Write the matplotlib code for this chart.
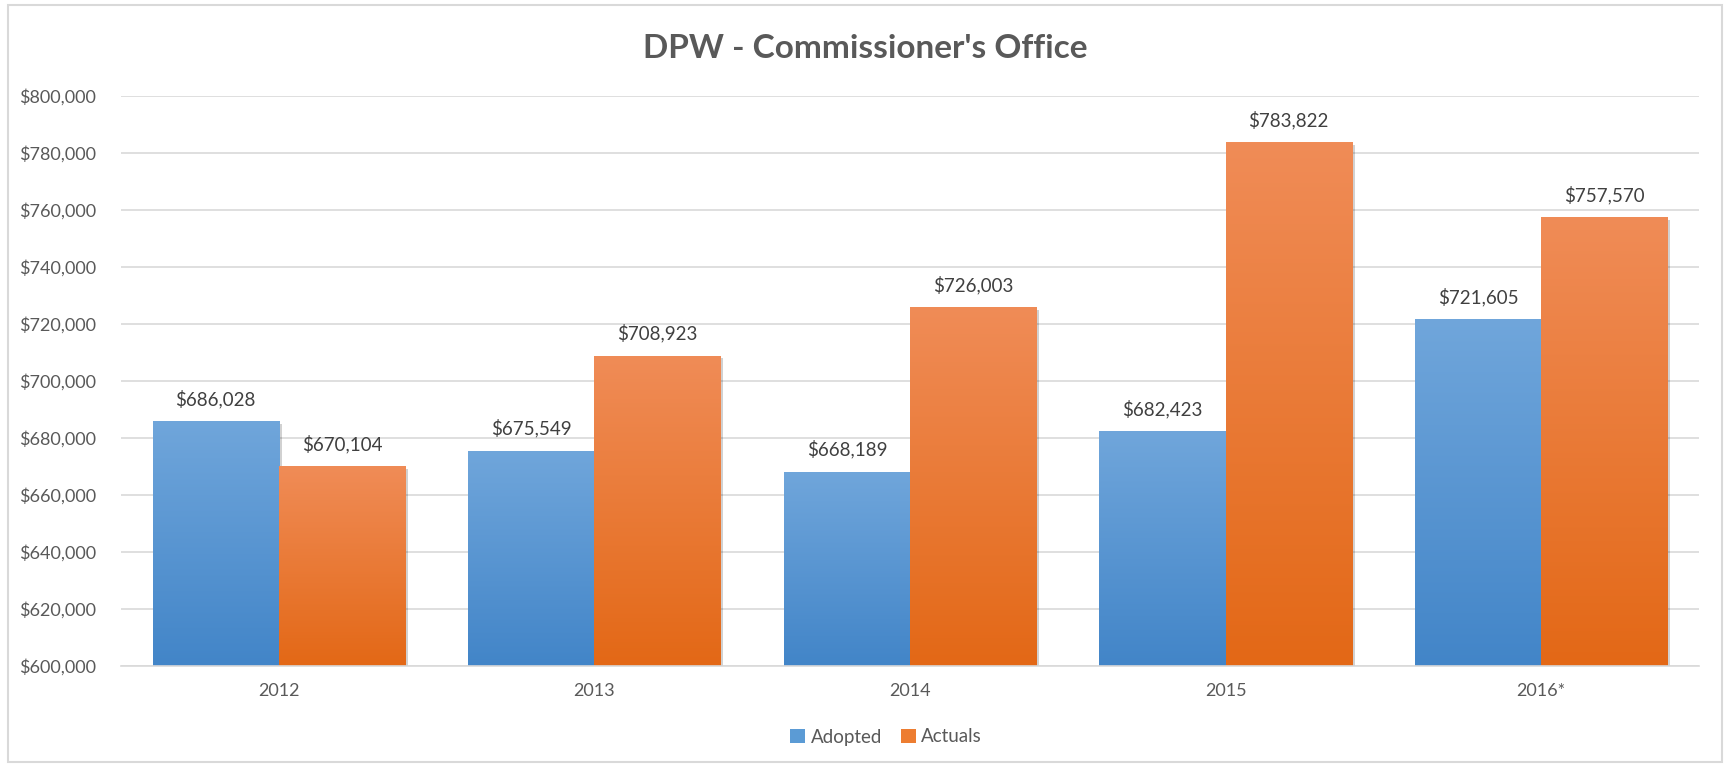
import numpy as np
import matplotlib
matplotlib.use('Agg')
import matplotlib.pyplot as plt
from matplotlib.colors import LinearSegmentedColormap
from matplotlib.patches import Rectangle, Patch
import matplotlib.patheffects as pe

years = ['2012', '2013', '2014', '2015', '2016*']
adopted = [686028, 675549, 668189, 682423, 721605]
actuals = [670104, 708923, 726003, 783822, 757570]

TXT = '#595959'
plt.rcParams['font.family'] = ['Lato', 'DejaVu Sans']

fig = plt.figure(figsize=(17.3, 7.68), dpi=100)
fig.patches.append(Rectangle((8/1730, 1 - 762/768), 1714/1730, 757/768,
                             transform=fig.transFigure, fill=False,
                             edgecolor='#D9D9D9', linewidth=1.5))
ax = fig.add_axes([121/1730, 1 - 666/768, 1578/1730, 570/768])

ymin, ymax = 600000, 800000
x = np.arange(len(years))
w = 0.4

blue_cm = LinearSegmentedColormap.from_list('b', ['#4285C8', '#70A6DB'])
orng_cm = LinearSegmentedColormap.from_list('o', ['#E36816', '#F08C57'])
grad = np.linspace(0, 1, 256).reshape(-1, 1)

shadow = [pe.SimplePatchShadow(offset=(2, -2), shadow_rgbFace='#000000', alpha=0.18)]

def draw(pos, vals, cmap):
    bars = ax.bar(pos, np.array(vals) - ymin, w, bottom=ymin, color='none',
                  edgecolor='none', zorder=2)
    for b, v in zip(bars, vals):
        bg = Rectangle((b.get_x(), ymin), b.get_width(), v - ymin,
                       facecolor='#888888', edgecolor='none', zorder=1.9)
        bg.set_path_effects(shadow)
        ax.add_patch(bg)
        im = ax.imshow(grad, cmap=cmap, aspect='auto', origin='lower',
                       extent=(b.get_x(), b.get_x() + b.get_width(), ymin, v),
                       zorder=2)
        im.set_clip_path(b)
        ax.text(b.get_x() + b.get_width() / 2, v + 4500, f'${v:,.0f}',
                ha='center', va='bottom', fontsize=13.5, color='#404040')
    return bars

draw(x - w / 2, adopted, blue_cm)
draw(x + w / 2, actuals, orng_cm)

ax.set_xlim(-0.5, len(years) - 0.5)
ax.set_ylim(ymin, ymax)
ax.set_yticks(np.arange(ymin, ymax + 1, 20000))
ax.set_yticklabels([f'${v:,.0f}' for v in np.arange(ymin, ymax + 1, 20000)])
ax.set_xticks(x)
ax.set_xticklabels(years)
ax.tick_params(axis='both', length=0, labelsize=13, colors=TXT)
ax.tick_params(axis='y', pad=18)
ax.tick_params(axis='x', pad=12)
ax.grid(axis='y', color='#D9D9D9', linewidth=1.2, zorder=0)
ax.set_axisbelow(True)
for s in ['top', 'right', 'left']:
    ax.spines[s].set_visible(False)
ax.spines['bottom'].set_color('#D9D9D9')
ax.spines['bottom'].set_linewidth(1.2)

fig.text(0.5, 1 - 48/768, "DPW - Commissioner's Office", ha='center', va='center',
         fontsize=24, fontweight='bold', color=TXT)

handles = [Patch(facecolor='#5B9BD5', label='Adopted'),
           Patch(facecolor='#ED7D31', label='Actuals')]
fig.legend(handles=handles, loc='center', bbox_to_anchor=(886/1730, 1 - 737/768),
           ncol=2, frameon=False, fontsize=13.5, handlelength=0.8, handleheight=0.8,
           handletextpad=0.3, columnspacing=1.0, labelcolor=TXT)

plt.savefig('out.png', dpi=100)
